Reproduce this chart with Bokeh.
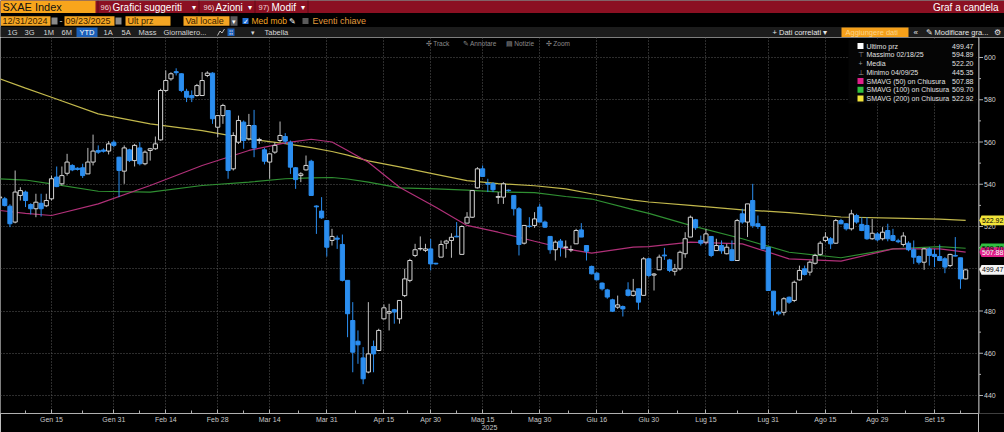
import pandas as pd
from bokeh.plotting import figure
from bokeh.models import (Range1d, FixedTicker, Label,
                          BoxAnnotation, ColumnDataSource)
from bokeh.layouts import column, row
from bokeh.embed import file_html
from bokeh.resources import INLINE
from bokeh.core.properties import value

FONT = "Liberation Sans"

# ---------------- data ----------------
HOLIDAYS = ["2025-01-01", "2025-04-18", "2025-04-21", "2025-05-01"]
DATES = [d for d in pd.bdate_range("2024-12-31", "2025-09-23")
         if d.strftime("%Y-%m-%d") not in HOLIDAYS]

OPEN = [533.5, 533.1, 529.6, 522.1, 534.7, 536.3, 530.4, 528.4, 531.0, 529.8,
        533.1, 543.4, 540.2, 545.2, 548.9, 547.6, 547.8, 544.9, 550.5, 556.0,
        556.2, 555.7, 559.9, 552.8, 546.2, 556.3, 551.2, 557.2, 549.7, 556.0,
        556.8, 561.0, 584.4, 589.9, 593.3, 592.3, 584.0, 582.0, 582.0, 582.0,
        591.5, 592.6, 567.0, 572.5, 574.9, 547.3, 559.9, 569.4, 561.5, 567.8,
        560.7, 556.3, 550.5, 555.2, 560.7, 562.6, 559.9, 547.8, 544.1, 546.8,
        550.9, 529.7, 527.3, 522.8, 513.4, 514.5, 511.5, 494.5, 475.5, 465.7,
        457.8, 451.1, 463.2, 461.3, 476.3, 479.0, 480.6, 476.3, 487.3, 494.5,
        506.3, 509.4, 508.7, 509.4, 502.6, 505.5, 512.1, 513.4, 515.4, 506.8,
        521.6, 524.4, 538.3, 547.3, 540.4, 540.2, 533.8, 533.9, 537.2, 534.7,
        528.4, 512.1, 520.2, 520.5, 529.2, 522.1, 515.3, 509.0, 513.1, 510.1,
        508.9, 511.8, 518.4, 511.0, 501.1, 497.9, 493.2, 490.0, 485.3, 481.8,
        482.1, 490.0, 487.4, 490.5, 487.4, 504.7, 497.0, 499.5, 506.5, 504.2,
        498.8, 500.0, 507.1, 515.0, 523.2, 513.4, 512.6, 515.3, 508.6, 511.0,
        507.1, 509.0, 503.9, 526.0, 522.1, 532.3, 521.3, 520.0, 510.2, 489.4,
        479.4, 479.4, 486.5, 485.0, 494.7, 500.0, 498.4, 502.6, 506.8, 513.4,
        514.2, 512.1, 522.8, 521.3, 518.9, 525.2, 521.0, 520.5, 514.2, 516.5,
        514.2, 518.1, 515.7, 513.2, 511.5, 512.1, 509.0, 505.8, 503.1, 509.4,
        506.8, 505.8, 504.7, 501.5, 506.3, 505.2, 495.2]
HIGH = [534.5, 534.0, 530.5, 546.5, 538.6, 537.0, 531.0, 535.5, 535.5, 535.5,
        544.1, 548.4, 548.4, 554.4, 549.5, 548.0, 549.7, 557.2, 563.5, 558.4,
        557.0, 560.4, 560.8, 553.0, 558.4, 556.8, 559.1, 559.9, 556.0, 557.2,
        562.6, 585.2, 593.9, 593.0, 594.89, 592.5, 585.2, 584.4, 587.5, 593.1,
        593.5, 593.0, 572.8, 578.1, 575.0, 564.6, 572.5, 570.2, 573.3, 575.2,
        562.0, 557.2, 554.6, 559.9, 569.7, 564.2, 560.7, 548.1, 545.7, 553.6,
        551.6, 530.0, 533.9, 523.0, 518.9, 515.7, 516.2, 494.5, 484.2, 470.8,
        462.9, 484.2, 466.0, 471.6, 483.1, 483.4, 481.0, 485.0, 500.0, 504.7,
        511.8, 515.3, 511.8, 514.1, 502.8, 513.4, 513.7, 516.8, 522.1, 520.5,
        526.8, 537.1, 548.1, 548.9, 542.6, 541.0, 536.3, 541.0, 537.5, 534.7,
        529.2, 520.5, 524.4, 526.8, 530.7, 522.8, 515.3, 513.4, 514.1, 513.4,
        511.0, 518.9, 521.6, 511.0, 501.5, 498.4, 493.5, 490.5, 485.8, 487.3,
        482.6, 493.6, 495.2, 490.5, 505.5, 505.2, 498.0, 506.7, 509.9, 504.7,
        502.3, 508.6, 517.3, 525.2, 523.6, 515.7, 518.9, 515.3, 514.2, 513.4,
        511.8, 513.4, 523.6, 528.4, 530.7, 540.2, 525.2, 520.0, 510.2, 489.4,
        480.2, 486.5, 486.9, 494.4, 501.5, 501.5, 503.9, 507.1, 513.1, 517.3,
        515.0, 523.6, 523.6, 521.6, 527.9, 526.0, 524.4, 524.4, 523.6, 517.3,
        519.7, 521.3, 518.9, 514.2, 517.3, 513.0, 513.4, 506.3, 509.9, 510.2,
        509.4, 511.5, 505.5, 507.1, 515.0, 505.2, 500.0]
LOW = [533.0, 529.5, 519.7, 521.5, 532.3, 529.2, 525.7, 524.4, 524.7, 529.2,
       532.3, 538.6, 539.4, 544.1, 546.2, 546.5, 543.0, 544.9, 548.9, 554.4,
       555.0, 554.1, 557.5, 533.9, 540.2, 550.5, 548.4, 548.9, 549.0, 551.2,
       556.3, 560.7, 583.6, 589.0, 591.5, 583.6, 578.9, 578.9, 581.5, 582.0,
       590.7, 568.6, 562.3, 568.6, 542.6, 546.5, 559.1, 556.8, 560.7, 552.8,
       559.1, 549.4, 542.6, 554.4, 559.9, 559.1, 544.9, 537.8, 541.0, 546.5,
       534.7, 516.5, 523.6, 505.8, 511.0, 509.4, 494.0, 467.6, 451.0, 455.0,
       445.35, 450.5, 451.0, 461.0, 476.0, 470.8, 474.0, 474.0, 486.6, 493.6,
       505.5, 508.6, 507.9, 499.2, 502.0, 505.5, 509.4, 505.2, 514.9, 506.8,
       521.6, 524.0, 538.0, 543.4, 536.3, 536.3, 530.7, 530.7, 536.5, 525.2,
       506.3, 511.5, 519.4, 519.4, 522.0, 519.4, 507.1, 503.9, 505.8, 505.2,
       507.9, 511.8, 515.0, 503.9, 497.3, 494.5, 489.7, 485.8, 479.5, 481.0,
       477.4, 486.9, 486.9, 480.6, 487.4, 496.0, 489.7, 499.5, 504.2, 498.4,
       496.8, 499.2, 505.2, 515.0, 518.4, 511.0, 511.5, 505.5, 508.6, 507.1,
       506.8, 503.6, 503.9, 521.3, 515.0, 519.4, 518.9, 509.4, 489.7, 477.9,
       477.9, 477.9, 483.4, 484.2, 494.4, 496.8, 496.8, 502.0, 506.3, 512.6,
       509.4, 511.8, 521.0, 518.1, 518.1, 521.3, 517.8, 513.7, 513.7, 513.0,
       513.4, 513.0, 513.0, 512.1, 510.5, 508.3, 502.3, 502.0, 499.5, 501.5,
       500.8, 503.6, 497.9, 500.8, 505.8, 490.5, 495.0]
CLOSE = [534.0, 529.9, 521.3, 536.3, 537.0, 532.3, 528.4, 531.5, 528.4, 532.3,
         542.6, 538.9, 544.1, 550.5, 546.8, 547.0, 544.1, 550.5, 555.7, 555.2,
         555.6, 559.1, 558.4, 546.5, 557.2, 551.2, 558.4, 549.7, 555.2, 556.8,
         559.1, 584.4, 589.1, 592.3, 592.8, 584.4, 581.2, 580.9, 586.7, 589.1,
         592.6, 571.0, 572.5, 577.3, 546.5, 563.1, 570.2, 560.7, 567.8, 557.2,
         561.2, 550.9, 554.4, 558.4, 563.1, 560.4, 548.1, 542.2, 544.9, 548.9,
         534.7, 529.3, 524.1, 510.2, 515.3, 514.0, 494.5, 478.7, 460.5, 464.0,
         447.9, 459.7, 459.7, 470.8, 481.5, 479.7, 479.5, 485.0, 495.2, 503.9,
         509.0, 509.6, 509.4, 502.3, 502.3, 511.5, 513.1, 514.9, 515.1, 520.0,
         524.4, 537.0, 547.3, 543.7, 540.0, 537.4, 534.2, 540.2, 537.0, 528.4,
         511.5, 520.5, 520.0, 523.6, 522.1, 519.7, 509.0, 512.6, 510.2, 510.3,
         509.1, 518.1, 515.0, 508.3, 497.6, 494.8, 490.5, 486.6, 479.9, 482.9,
         481.0, 487.4, 489.4, 484.2, 504.7, 496.8, 497.5, 505.5, 506.1, 499.2,
         500.0, 507.8, 514.2, 524.4, 519.4, 512.1, 516.5, 506.3, 511.0, 508.5,
         510.2, 503.9, 522.8, 522.1, 530.7, 520.5, 520.0, 509.4, 489.7, 480.2,
         478.7, 485.8, 484.2, 493.6, 499.2, 497.3, 503.1, 506.3, 512.1, 515.0,
         511.8, 522.8, 521.3, 518.9, 526.0, 522.1, 518.1, 514.2, 516.8, 513.7,
         517.3, 514.2, 513.4, 512.8, 515.5, 509.0, 505.5, 503.1, 509.4, 506.3,
         505.8, 503.9, 500.8, 506.8, 506.0, 495.2, 499.47]

# moving averages (trading-day index -> value)
MA_IDX = [0, 5, 10, 19, 29, 39, 48, 55, 60, 64, 67, 71, 77, 84, 90, 96, 103,
          109, 114, 122, 125, 133, 143, 152, 162, 172, 181, 186]
SMA50 = [527.6, 526.2, 525.2, 530.7, 539.4, 548.9, 556.0, 559.6, 561.3, 560.0,
         556.0, 550.4, 538.6, 529.1, 520.5, 517.3, 513.0, 509.4, 507.4, 510.2,
         510.5, 512.6, 511.8, 504.7, 503.6, 509.4, 509.4, 507.88]
SMA100 = [542.6, 542.0, 540.2, 536.7, 536.3, 539.4, 541.0, 542.6, 543.0, 543.2,
          542.5, 541.0, 538.3, 537.8, 537.2, 536.4, 536.0, 534.2, 533.0, 528.0,
          526.2, 520.5, 514.2, 507.8, 505.2, 509.4, 510.5, 509.70]
SMA200 = [590.0, 585.5, 581.2, 573.3, 568.6, 565.4, 561.5, 559.2, 557.3, 555.5,
          553.8, 551.1, 548.2, 544.7, 541.7, 540.3, 539.3, 537.8, 535.5, 532.5,
          531.6, 530.0, 527.9, 526.6, 524.5, 524.0, 523.5, 522.92]
MEDIA = 522.20

TICK_DATES = ["2025-01-15", "2025-01-31", "2025-02-14", "2025-02-28", "2025-03-14",
              "2025-03-31", "2025-04-15", "2025-04-30", "2025-05-15", "2025-05-30",
              "2025-06-16", "2025-06-30", "2025-07-15", "2025-07-31", "2025-08-15",
              "2025-08-29", "2025-09-15"]
TICK_LABELS = ["Gen 15", "Gen 31", "Feb 14", "Feb 28", "Mar 14", "Mar 31", "Apr 15",
               "Apr 30", "Mag 15", "Mag 30", "Giu 16", "Giu 30", "Lug 15", "Lug 31",
               "Ago 15", "Ago 29", "Set 15"]
YEAR_LABEL = "2025"
Y_TICKS = [440, 460, 480, 500, 520, 540, 560, 580, 600]

# ---------------- colours ----------------
BLUE = "#2b8ef0"
UP_LINE = "#d4d4d4"
MAG_LINE, GRN_LINE, YEL_LINE = "#b03078", "#2f8f32", "#c2b84c"
MAG, GRN, YEL = "#e0208a", "#30c040", "#f2e43a"
AXIS_COL = "#b0b0b0"
GRID_COL = "#5a5a5a"

n = len(CLOSE)
date_str = [d.strftime("%Y-%m-%d") for d in DATES][:n]
pos = {d: i for i, d in enumerate(date_str)}
major = [pos[d] for d in TICK_DATES]
minor = [major[0] - 5] + [(a + b) / 2 for a, b in zip(major[:-1], major[1:])] + [major[-1] + 5]

def split(cond):
    idx = [i for i in range(n) if cond(OPEN[i], CLOSE[i])]
    return ColumnDataSource(dict(
        x=idx, low=[LOW[i] for i in idx], high=[HIGH[i] for i in idx],
        top=[max(OPEN[i], CLOSE[i]) for i in idx],
        bottom=[min(OPEN[i], CLOSE[i]) for i in idx]))

src_up = split(lambda o, c: c >= o)
src_dn = split(lambda o, c: c < o)

# ---------------- main chart ----------------
X0, X1 = 0.181, 188.47
Y0, Y1 = 431.48, 609.47
FW, FH, TOP = 978, 376, 37

def dx(px):
    return X0 + px * (X1 - X0) / FW

def dy(py):
    return Y1 - (py - TOP) * (Y1 - Y0) / FH

yr = Range1d(Y0, Y1)
p = figure(width=978, height=395, x_range=Range1d(X0, X1), y_range=yr,
           y_axis_location=None, output_backend="svg", toolbar_location=None,
           min_border_left=0, min_border_right=0, min_border_top=0, min_border_bottom=19,
           background_fill_color="black", border_fill_color="black",
           outline_line_color=None)

xa = p.xaxis[0]
xa.ticker = FixedTicker(ticks=major, minor_ticks=minor)
xa.major_label_overrides = {t: l for t, l in zip(major, TICK_LABELS)}
xa.axis_line_color = AXIS_COL
xa.major_tick_line_color = AXIS_COL
xa.minor_tick_line_color = AXIS_COL
xa.major_tick_in, xa.major_tick_out = 4, 0
xa.minor_tick_in, xa.minor_tick_out = 3, 0
xa.major_label_text_color = "#c8c8c8"
xa.major_label_text_font = FONT
xa.major_label_text_font_size = "7px"
xa.major_label_standoff = 2
# the year sits centred under the date labels
xa.axis_label = YEAR_LABEL
xa.axis_label_text_font = FONT
xa.axis_label_text_font_size = "7px"
xa.axis_label_text_font_style = "normal"
xa.axis_label_text_color = "#c8c8c8"
xa.axis_label_standoff = -1

p.xgrid.ticker = FixedTicker(ticks=major)
p.ygrid.ticker = FixedTicker(ticks=Y_TICKS)
for g in (p.xgrid, p.ygrid):
    g.grid_line_color = GRID_COL
    g.grid_line_dash = "1 2"
    g.grid_line_width = 1

# moving averages
p.line(MA_IDX, SMA200, line_color=YEL_LINE, line_width=1.2)
p.line(MA_IDX, SMA100, line_color=GRN_LINE, line_width=1.2)
p.line(MA_IDX, SMA50, line_color=MAG_LINE, line_width=1.2)

# candles
W = 0.8
p.segment(x0="x", y0="low", x1="x", y1="high", source=src_up, line_color="#bdbdbd", line_width=1)
p.vbar(x="x", width=W, top="top", bottom="bottom", source=src_up,
       fill_color="black", line_color=UP_LINE, line_width=1)
p.segment(x0="x", y0="low", x1="x", y1="high", source=src_dn, line_color=BLUE, line_width=1)
p.vbar(x="x", width=W, top="top", bottom="bottom", source=src_dn,
       fill_color=BLUE, line_color=BLUE, line_width=1)

def lab(fig, x, y, text, size="7px", color="#d8d8d8", align="left"):
    fig.add_layout(Label(x=x, y=y, text=text, text_font=FONT, text_font_size=size,
                         text_color=color, text_align=align, text_baseline="middle"))

# chart toolbar
for px, t in [(425, "✣ Track"), (462, "✎ Annotare"), (505, "▤ Notizie"), (545, "✣ Zoom")]:
    lab(p, dx(px), dy(42.5), t, size="6.5px", color="#8c8c8c")

# legend box
p.add_layout(BoxAnnotation(left=dx(848), right=dx(976), top=dy(39.5), bottom=dy(103),
                           fill_color="#050505", fill_alpha=1.0, line_color=None))
imax = max(range(n), key=lambda i: HIGH[i])
imin = min(range(n), key=lambda i: LOW[i])
rows = [
    ("sq", "white", "Ultimo prz", CLOSE[-1]),
    ("⊤", "#9a9a9a", "Massimo " + DATES[imax].strftime("%m/%d/%y"), HIGH[imax]),
    ("+", "#9a9a9a", "Media", MEDIA),
    ("⊥", "#9a9a9a", "Minimo " + DATES[imin].strftime("%m/%d/%y"), LOW[imin]),
    ("sq", MAG, "SMAVG (50)  on Chiusura", SMA50[-1]),
    ("sq", GRN, "SMAVG (100)  on Chiusura", SMA100[-1]),
    ("sq", YEL, "SMAVG (200)  on Chiusura", SMA200[-1]),
]
for k, (icon, col, text, val) in enumerate(rows):
    py = 45.5 + 8.75 * k
    if icon == "sq":
        p.add_layout(BoxAnnotation(left=dx(857), right=dx(863), top=dy(py - 3), bottom=dy(py + 3),
                                   fill_color=col, fill_alpha=1.0, line_color=None))
    else:
        lab(p, dx(860), dy(py), icon, size="7px", color=col, align="center")
    lab(p, dx(866), dy(py), text, size="7px", color="#e0e0e0")
    lab(p, dx(973), dy(py), f"{val:.2f}", size="7px", color="#e0e0e0", align="right")

# ---------------- right price axis + value tags ----------------
r = figure(width=26, height=395, x_range=Range1d(0, 26), y_range=yr,
           x_axis_location=None, y_axis_location=None, output_backend="svg",
           toolbar_location=None, min_border_left=0, min_border_right=0,
           min_border_top=0, min_border_bottom=19, background_fill_color="black",
           border_fill_color="black", outline_line_color=None)
r.xgrid.visible = False
r.ygrid.visible = False
minor_y = [(a + b) / 2 for a, b in zip(Y_TICKS[:-1], Y_TICKS[1:])]
r.segment(x0=[0.5], y0=[Y0], x1=[0.5], y1=[Y1], line_color="#a0a0a0", line_width=1)
r.segment(x0=[0.5] * len(Y_TICKS), y0=Y_TICKS, x1=[4.5] * len(Y_TICKS), y1=Y_TICKS,
          line_color=AXIS_COL, line_width=1)
r.segment(x0=[0.5] * len(minor_y), y0=minor_y, x1=[2.5] * len(minor_y), y1=minor_y,
          line_color=AXIS_COL, line_width=1)
r.text(x=[5.5] * len(Y_TICKS), y=Y_TICKS, text=[str(t) for t in Y_TICKS],
       text_font=value(FONT), text_font_size="7px", text_color="#d0d0d0",
       text_baseline="middle", text_align="left")

tags = [(SMA200[-1], YEL, "black"), (SMA100[-1], GRN, "black"),
        (SMA50[-1], MAG, "white"), (CLOSE[-1], "#f4f4f4", "black")]
HH = 4.8 * (Y1 - Y0) / FH
r.patches(xs=[[0.8, 3, 26, 26, 3] for _ in tags],
          ys=[[v, v + HH, v + HH, v - HH, v - HH] for v, _, _ in tags],
          fill_color=[c for _, c, _ in tags], line_color=None)
r.text(x=[3.5] * len(tags), y=[v for v, _, _ in tags], text=[f"{v:.2f}" for v, _, _ in tags],
       text_color=[f for _, _, f in tags], text_font=value(FONT), text_font_size="7px",
       text_baseline="middle", text_align="left")

# ---------------- header (terminal bars) ----------------
h = figure(width=1004, height=37, x_range=Range1d(0, 1004), y_range=Range1d(37, 0),
           x_axis_location=None, y_axis_location=None, output_backend="svg",
           toolbar_location=None, min_border=0, background_fill_color="black",
           border_fill_color="black", outline_line_color=None)
h.xgrid.visible = False
h.ygrid.visible = False

boxes = [
    (0, 1004, 0, 12.5, "#8b1022"),
    (97, 98, 0, 12.5, "#5e0a16"), (198, 199, 0, 12.5, "#5e0a16"),
    (254, 255, 0, 12.5, "#5e0a16"), (307, 308, 0, 12.5, "#5e0a16"),
    (0, 95, 0, 12.5, "#f8a51c"),
    (0.5, 50, 15.8, 25.2, "#f5a623"), (64, 114, 15.8, 25.2, "#f5a623"),
    (125, 170, 15.8, 25.2, "#f5a623"), (183, 229, 15.8, 25.2, "#f5a623"),
    (51, 57, 17, 24, "#8a8a8a"), (115, 121, 17, 24, "#8a8a8a"),
    (230, 237, 15.8, 25.2, "#5a5a5a"),
    (242, 248, 17.5, 23.5, "#1f6fd6"), (302, 308, 17.5, 23.5, "#5a5a5a"),
    (0, 1004, 26.5, 37, "#1c1c1c"),
    (76, 97, 27, 36.5, "#1b5fb8"), (227, 234, 28, 35.5, "#1b5fb8"),
    (841, 908, 27, 36.5, "#f5a01a"),
]
h.quad(left=[b[0] for b in boxes], right=[b[1] for b in boxes],
       top=[b[2] for b in boxes], bottom=[b[3] for b in boxes],
       fill_color=[b[4] for b in boxes], line_color=None)
h.line(x=[217, 219.5, 221.5, 224], y=[35, 30.5, 32.5, 28.5], line_color="#bbbbbb", line_width=1)

texts = [
    (2, 6.7, "SXAE Index", "11px", "#111111", "left"),
    (100, 6.9, "96)", "7.5px", "#f2d6da", "left"),
    (112, 6.7, "Grafici suggeriti", "10px", "white", "left"),
    (191, 6.7, "▾", "8px", "white", "left"),
    (203, 6.9, "96)", "7.5px", "#f2d6da", "left"),
    (215, 6.7, "Azioni", "10px", "white", "left"),
    (247, 6.7, "▾", "8px", "white", "left"),
    (258, 6.9, "97)", "7.5px", "#f2d6da", "left"),
    (271, 6.7, "Modif", "10px", "white", "left"),
    (300, 6.7, "▾", "8px", "white", "left"),
    (998, 6.7, "Graf a candela", "10px", "white", "right"),
    (2, 20.6, "12/31/2024", "9px", "#3a2200", "left"),
    (59, 20.6, "-", "9px", "#d0d0d0", "left"),
    (65, 20.6, "09/23/2025", "9px", "#3a2200", "left"),
    (127, 20.6, "Ult prz", "9px", "#3a2200", "left"),
    (185, 20.6, "Val locale", "9px", "#3a2200", "left"),
    (233.5, 20.6, "▾", "7px", "white", "center"),
    (245, 20.6, "✓", "7px", "white", "center"),
    (251, 20.6, "Med mob", "8.5px", "#f5a623", "left"),
    (288, 20.6, "✎", "8px", "white", "left"),
    (312, 20.6, "Eventi chiave", "9px", "#e09a3c", "left"),
    (7, 31.8, "1G", "7.5px", "#d6d6d6", "left"),
    (24, 31.8, "3G", "7.5px", "#d6d6d6", "left"),
    (43, 31.8, "1M", "7.5px", "#d6d6d6", "left"),
    (61, 31.8, "6M", "7.5px", "#d6d6d6", "left"),
    (86.5, 31.8, "YTD", "7.5px", "white", "center"),
    (103, 31.8, "1A", "7.5px", "#d6d6d6", "left"),
    (121, 31.8, "5A", "7.5px", "#d6d6d6", "left"),
    (138, 31.8, "Mass", "7.5px", "#d6d6d6", "left"),
    (163, 31.8, "Giornaliero...", "7.5px", "#d6d6d6", "left"),
    (230.5, 31.8, "⁞⁞", "7px", "white", "center"),
    (250, 31.8, "▾", "7px", "#d6d6d6", "left"),
    (264, 31.8, "Tabella", "7.5px", "#d6d6d6", "left"),
    (772, 31.8, "+ Dati correlati ▾", "7.5px", "#e6e6e6", "left"),
    (845, 31.8, "Aggiungere dati", "7.5px", "#fcd48a", "left"),
    (913, 31.8, "«", "8px", "#e6e6e6", "left"),
    (925, 31.8, "✎ Modificare gra...", "7.5px", "#e6e6e6", "left"),
    (997, 31.8, "⚙", "8px", "#e6e6e6", "center"),
]
for (x, y, t, s, c, a) in texts:
    h.text(x=[x], y=[y], text=[t], text_font=value(FONT), text_font_size=s,
           text_color=c, text_align=a, text_baseline="middle")

layout = column(h, row(p, r, spacing=0), spacing=0)
open("out.html", "w").write(file_html(layout, INLINE))
